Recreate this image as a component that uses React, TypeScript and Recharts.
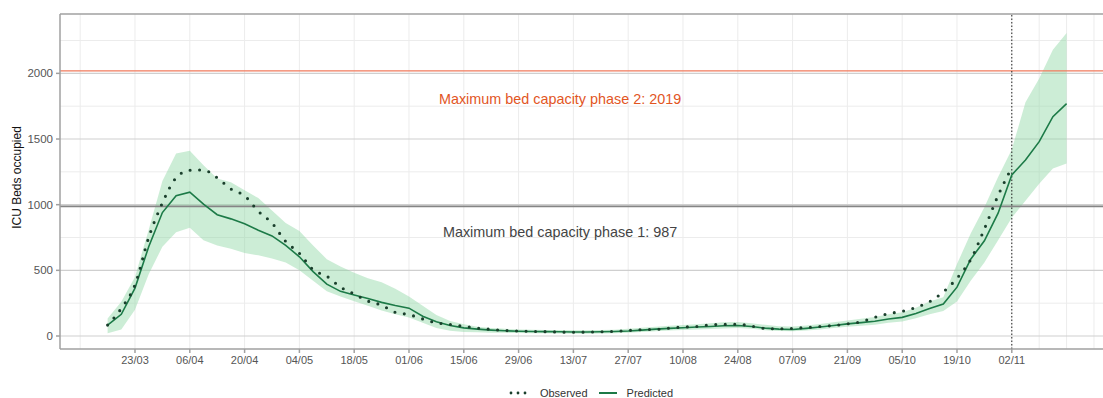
import React from "react";
import {
  ComposedChart,
  Area,
  Line,
  XAxis,
  YAxis,
  CartesianGrid,
  ReferenceLine,
  ReferenceDot,
  Legend,
} from "recharts";

// one value every 3.5 days, starting 16/03
const STEP_DAYS = 3.5;

const predicted = [
  83, 165, 365, 680, 940, 1068, 1095, 1005, 924, 892, 855, 805, 762, 690, 603,
  490, 395, 340, 312, 285, 256, 232, 212, 150, 108, 80, 62, 52, 45, 40, 36, 34,
  33, 32, 30, 30, 32, 34, 38, 45, 52, 58, 63, 68, 72, 78, 80, 72, 60, 52, 50,
  58, 68, 80, 92, 102, 112, 130, 142, 172, 209, 243, 372, 585, 725, 935, 1227,
  1340, 1480, 1670, 1770,
];

const observed = [
  83, 210, 390, 750, 1013, 1205, 1262, 1264, 1205, 1120, 1068, 950, 860, 720,
  630, 505, 455, 372, 320, 266, 235, 180, 163, 130, 100, 88, 74, 60, 50, 42, 38,
  35, 33, 30, 28, 30, 32, 35, 42, 48, 50, 60, 68, 72, 85, 88, 90, 75, 58, 55,
  58, 65, 72, 80, 92, 108, 142, 170, 188, 218, 262, 336, 440, 582, 815, 1070,
  1282,
];

const upper = [
  133, 260, 450, 810, 1180, 1390, 1410, 1300, 1200, 1170, 1110, 1050, 955, 860,
  800, 690, 585, 530, 482, 440, 410, 360, 300, 230, 160, 115, 90, 70, 60, 55,
  50, 48, 46, 45, 44, 44, 46, 48, 55, 62, 70, 78, 84, 90, 98, 104, 106, 98, 85,
  75, 72, 80, 92, 105, 118, 132, 145, 165, 180, 215, 262, 295, 548, 780, 980,
  1210, 1420, 1780, 1960, 2180, 2307,
];

const lower = [
  20, 50, 200, 470, 680, 790, 824, 730, 690, 665, 632, 614, 590, 560, 500, 420,
  340, 300, 265, 230, 195, 165, 140, 100, 60, 40, 30, 28, 25, 24, 22, 20, 20,
  19, 18, 18, 19, 21, 25, 30, 36, 42, 46, 50, 54, 58, 60, 55, 44, 38, 36, 42,
  50, 60, 70, 78, 86, 100, 110, 135, 165, 190, 262, 420, 560, 730, 900, 1030,
  1160, 1275, 1314,
];

const tickLabels = [
  "23/03", "06/04", "20/04", "04/05", "18/05", "01/06", "15/06", "29/06",
  "13/07", "27/07", "10/08", "24/08", "07/09", "21/09", "05/10", "19/10",
  "02/11",
];

const yTicks = [0, 500, 1000, 1500, 2000];
const yMinor = [250, 750, 1250, 1750, 2250];

const CAPACITY_1 = 987;
const CAPACITY_2 = 2019;
const LOCKDOWN_DAY = 231; // 02/11

const X_MIN = -12.16;
const X_MAX = 254.3;
const Y_MIN = -99;
const Y_MAX = 2452;

const FONT = "'Liberation Sans', Arial, sans-serif";
const PRED_COLOR = "#1c7a47";
const OBS_COLOR = "#1a3f2c";

const data = predicted.map((p, i) => ({
  day: i * STEP_DAYS,
  pred: p,
  obs: i < observed.length ? observed[i] : null,
  band: [lower[i], upper[i]],
}));

const xTicks = tickLabels.map((_, i) => 7 + i * 14);
const vGrid = Array.from({ length: 38 }, (_, i) => -7 + i * 7);

function LegendBox() {
  return (
    <div
      style={{
        display: "flex",
        justifyContent: "center",
        alignItems: "center",
        fontFamily: FONT,
        fontSize: 11,
        color: "#333",
        paddingLeft: 78,
        paddingTop: 5,
      }}
    >
      <svg width={22} height={10}>
        <line
          x1={3}
          y1={5}
          x2={20}
          y2={5}
          stroke={OBS_COLOR}
          strokeWidth={2.8}
          strokeDasharray="0 7"
          strokeLinecap="round"
        />
      </svg>
      <span style={{ marginLeft: 10, marginRight: 10 }}>Observed</span>
      <svg width={20} height={10}>
        <line x1={1} y1={5} x2={19} y2={5} stroke={PRED_COLOR} strokeWidth={2} />
      </svg>
      <span style={{ marginLeft: 9 }}>Predicted</span>
    </div>
  );
}

export default function App() {
  return (
    <div style={{ position: "absolute", left: 0, top: 0, background: "#fff" }}>
      <ComposedChart
        width={1103}
        height={398}
        data={data}
        margin={{ top: 14, right: 0, bottom: 0, left: 0 }}
      >
        <CartesianGrid
          stroke="#ececec"
          strokeWidth={1}
          verticalValues={vGrid}
          horizontalValues={yMinor}
        />
        <CartesianGrid
          stroke="#cfcfcf"
          strokeWidth={1.2}
          vertical={false}
          horizontalValues={yTicks}
        />
        <XAxis
          type="number"
          dataKey="day"
          domain={[X_MIN, X_MAX]}
          allowDataOverflow
          ticks={xTicks}
          tickFormatter={(v: number) => tickLabels[Math.round((v - 7) / 14)]}
          height={33}
          tickSize={4}
          tickMargin={3}
          stroke="#a0a0a0"
          strokeWidth={1.5}
          tick={{ fill: "#555", fontSize: 11, fontFamily: FONT }}
        />
        <YAxis
          type="number"
          domain={[Y_MIN, Y_MAX]}
          allowDataOverflow
          ticks={yTicks}
          width={60}
          tickSize={4}
          tickMargin={3}
          stroke="#a0a0a0"
          strokeWidth={1.5}
          tick={{ fill: "#555", fontSize: 11.5, fontFamily: FONT }}
          label={{
            content: ({ viewBox }: any) => (
              <text
                x={0}
                y={0}
                transform={`translate(17, ${viewBox.y + viewBox.height / 2 - 4}) rotate(-90)`}
                textAnchor="middle"
                dominantBaseline="central"
                fontSize={12}
                fontFamily={FONT}
                fill="#111"
              >
                ICU Beds occupied
              </text>
            ),
          }}
        />
        <Legend
          verticalAlign="bottom"
          height={16}
          content={() => <LegendBox />}
        />
        <Area
          dataKey="band"
          stroke="none"
          fill="#8fd6a3"
          fillOpacity={0.45}
          isAnimationActive={false}
          legendType="none"
        />
        <ReferenceLine y={Y_MAX} stroke="#a0a0a0" strokeWidth={1.5} />
        <ReferenceLine y={CAPACITY_2} stroke="#f07a5c" strokeWidth={1.3} />
        <ReferenceLine y={CAPACITY_1} stroke="#858585" strokeWidth={1.8} />
        <ReferenceLine
          x={LOCKDOWN_DAY}
          stroke="#222"
          strokeWidth={1}
          strokeDasharray="1.5 2"
        />
        <ReferenceDot
          x={115.6}
          y={1805}
          r={0}
          fill="none"
          stroke="none"
          label={{
            value: `Maximum bed capacity phase 2: ${CAPACITY_2}`,
            position: "center",
            fill: "#e2561f",
            fontSize: 14.4,
            fontFamily: FONT,
          }}
        />
        <ReferenceDot
          x={115.6}
          y={790}
          r={0}
          fill="none"
          stroke="none"
          label={{
            value: `Maximum bed capacity phase 1: ${CAPACITY_1}`,
            position: "center",
            fill: "#444",
            fontSize: 14.4,
            fontFamily: FONT,
          }}
        />
        <Line
          dataKey="pred"
          type="linear"
          stroke={PRED_COLOR}
          strokeWidth={1.6}
          dot={false}
          isAnimationActive={false}
        />
        <Line
          dataKey="obs"
          type="monotone"
          stroke={OBS_COLOR}
          strokeWidth={3.1}
          strokeDasharray="0 9.5"
          strokeLinecap="round"
          dot={false}
          connectNulls={false}
          isAnimationActive={false}
        />
      </ComposedChart>
    </div>
  );
}
